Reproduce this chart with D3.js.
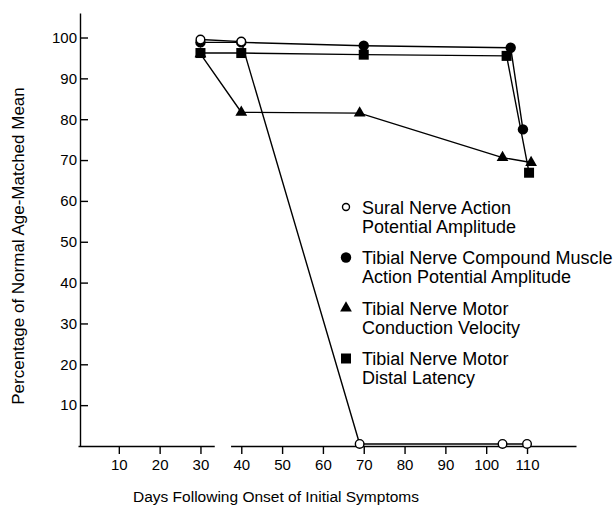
<!DOCTYPE html>
<html>
<head>
<meta charset="utf-8">
<script src="https://cdn.jsdelivr.net/npm/d3@7"></script>
<style>
  body { margin: 0; background: #fff; }
  svg { font-family: "Liberation Sans", Arial, sans-serif; }
  .axis path, .axis line { stroke: #000; stroke-width: 1.4; }
  .axis text { fill: #000; font-size: 15px; }
</style>
</head>
<body>
<svg width="616" height="510"></svg>
<script>
// days on x axis, percent of normal on y axis
var xTicks = [10, 20, 30, 40, 50, 60, 70, 80, 90, 100, 110];
var yTicks = [10, 20, 30, 40, 50, 60, 70, 80, 90, 100];

var suralDays = [30, 40, 69, 104, 110];
var suralVals = [99.5, 99, 0.5, 0.5, 0.5];

var cmapDays = [30, 40, 70, 106, 109];
var cmapVals = [98.8, 98.8, 98, 97.5, 77.5];

var mcvDays = [30, 40, 69, 104, 111];
var mcvVals = [96, 81.7, 81.5, 70.6, 69.4];

var dlDays = [30, 40, 70, 105, 110.5];
var dlVals = [96.2, 96.2, 95.8, 95.5, 66.9];

var legendLines = [
  ["Sural Nerve Action", "Potential Amplitude"],
  ["Tibial Nerve Compound Muscle", "Action Potential Amplitude"],
  ["Tibial Nerve Motor", "Conduction Velocity"],
  ["Tibial Nerve Motor", "Distal Latency"]
];

var series = [
  { name: "sural", days: suralDays, vals: suralVals, shape: "openCircle" },
  { name: "cmap", days: cmapDays, vals: cmapVals, shape: "circle" },
  { name: "mcv", days: mcvDays, vals: mcvVals, shape: "triangle" },
  { name: "dl", days: dlDays, vals: dlVals, shape: "square" }
];

var svg = d3.select("svg");

var x = d3.scaleLinear().domain([0, 122]).range([78, 576]);
var y = d3.scaleLinear().domain([0, 106]).range([446, 13]);

// axes
svg.append("g")
  .attr("class", "axis")
  .attr("transform", "translate(0,446)")
  .call(d3.axisBottom(x).tickValues(xTicks).tickSizeInner(8).tickSizeOuter(0).tickPadding(5));

svg.append("g")
  .attr("class", "axis")
  .attr("transform", "translate(80,0)")
  .call(d3.axisLeft(y).tickValues(yTicks).tickSizeInner(-8).tickSizeOuter(0).tickPadding(3));

// little break in the x axis between 30 and 40
svg.append("rect")
  .attr("x", x(33.5)).attr("y", 443)
  .attr("width", x(37.5) - x(33.5)).attr("height", 6)
  .style("fill", "#fff");

var line = d3.line()
  .x(function(d) { return x(d[0]); })
  .y(function(d) { return y(d[1]); });

function drawMarker(g, shape, cx, cy, r) {
  if (shape == "openCircle") {
    g.append("circle").attr("cx", cx).attr("cy", cy).attr("r", r || 4.3)
      .style("fill", "#fff").style("stroke", "#000").style("stroke-width", 1.4);
  } else if (shape == "circle") {
    g.append("circle").attr("cx", cx).attr("cy", cy).attr("r", 5.2).style("fill", "#000");
  } else if (shape == "triangle") {
    g.append("path")
      .attr("transform", "translate(" + cx + "," + cy + ")")
      .attr("d", d3.symbol().type(d3.symbolTriangle).size(60))
      .style("fill", "#000");
  } else {
    g.append("rect").attr("x", cx - 5).attr("y", cy - 5)
      .attr("width", 10).attr("height", 10).style("fill", "#000");
  }
}

// lines first, then markers on top
series.forEach(function(s) {
  var pts = s.days.map(function(d, i) { return [d, s.vals[i]]; });
  svg.append("path")
    .datum(pts)
    .attr("d", line)
    .style("fill", "none")
    .style("stroke", "#000")
    .style("stroke-width", 1.4);
});

// draw filled ones before open circles
[3, 2, 1, 0].forEach(function(k) {
  var s = series[k];
  var g = svg.append("g");
  s.days.forEach(function(d, i) {
    drawMarker(g, s.shape, x(d), y(s.vals[i]));
  });
});

// legend
var legend = svg.selectAll(".legend")
  .data(series)
  .enter().append("g")
  .attr("class", "legend")
  .attr("transform", function(d, i) { return "translate(346," + (207 + i * 50.5) + ")"; });

legend.each(function(d) {
  drawMarker(d3.select(this), d.shape, 0, 0, 3.5);
});

legend.append("text")
  .attr("x", 16)
  .attr("y", 6.5)
  .style("font-size", "18px")
  .text(function(d, i) { return legendLines[i][0]; });

legend.append("text")
  .attr("x", 16)
  .attr("y", 25.5)
  .style("font-size", "18px")
  .text(function(d, i) { return legendLines[i][1]; });

// axis titles
svg.append("text")
  .attr("x", 276)
  .attr("y", 502)
  .style("text-anchor", "middle")
  .style("font-size", "15.5px")
  .text("Days Following Onset of Initial Symptoms");

svg.append("text")
  .attr("transform", "translate(24,246) rotate(-90)")
  .style("text-anchor", "middle")
  .style("font-size", "17px")
  .text("Percentage of Normal Age-Matched Mean");
</script>
</body>
</html>
